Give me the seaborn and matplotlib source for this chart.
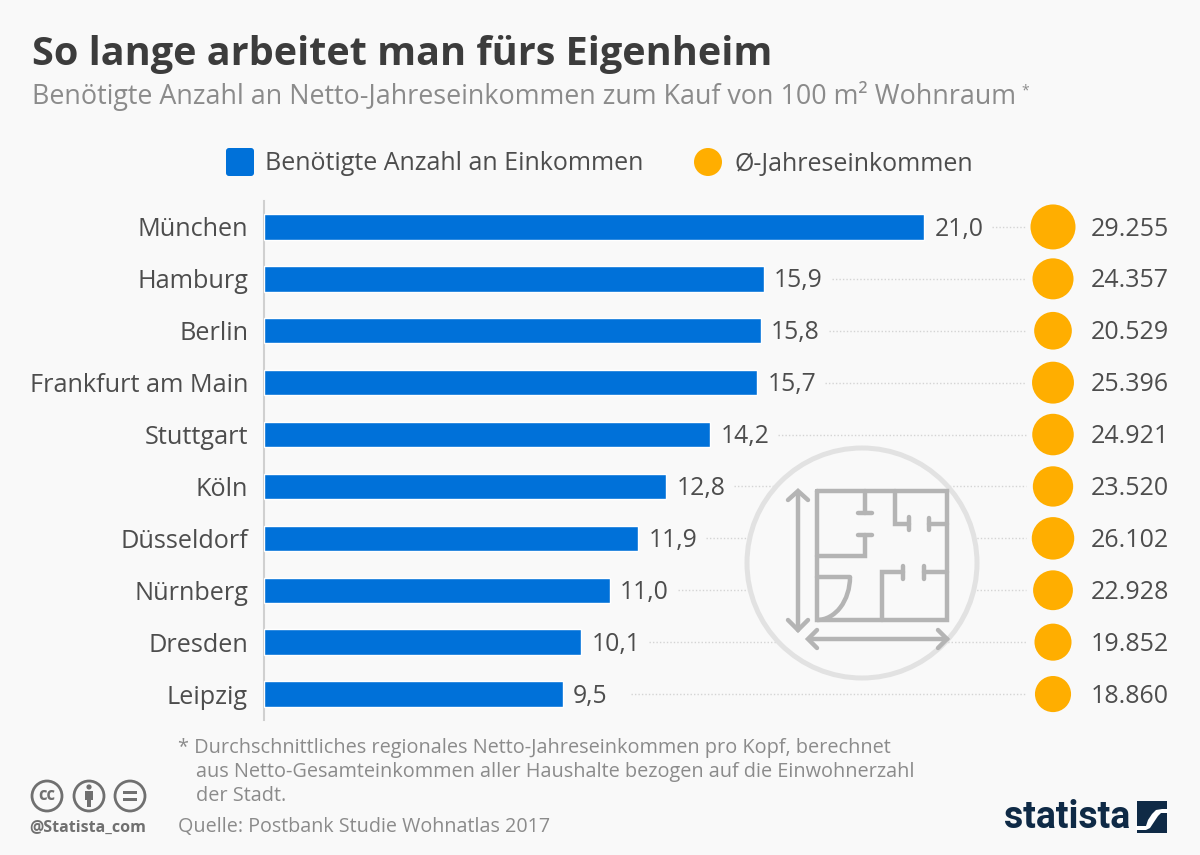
"""
So lange arbeitet man fuers Eigenheim - Statista bar chart with income bubbles.
"""
import numpy as np
import pandas as pd
import matplotlib
matplotlib.use('Agg')
import matplotlib.pyplot as plt
import seaborn as sns
from matplotlib.patches import Arc, Circle, FancyBboxPatch, PathPatch, Rectangle
from matplotlib.path import Path

cities = ['München', 'Hamburg', 'Berlin', 'Frankfurt am Main', 'Stuttgart',
          'Köln', 'Düsseldorf', 'Nürnberg', 'Dresden', 'Leipzig']
years_needed = [21.0, 15.9, 15.8, 15.7, 14.2, 12.8, 11.9, 11.0, 10.1, 9.5]
avg_income = [29255, 24357, 20529, 25396, 24921, 23520, 26102, 22928, 19852, 18860]

title = 'So lange arbeitet man fürs Eigenheim'
subtitle = 'Benötigte Anzahl an Netto-Jahreseinkommen zum Kauf von 100 m² Wohnraum'
legend_bar = 'Benötigte Anzahl an Einkommen'
legend_dot = 'Ø-Jahreseinkommen'
footnotes = ['* Durchschnittliches regionales Netto-Jahreseinkommen pro Kopf, berechnet',
             'aus Netto-Gesamteinkommen aller Haushalte bezogen auf die Einwohnerzahl',
             'der Stadt.']
source = 'Quelle: Postbank Studie Wohnatlas 2017'

BG = '#f9f9f9'
BLUE = '#0071d9'
ORANGE = '#ffae00'
TEXT = '#4d4d4d'
MUTED = '#8b8b8b'
ICON = '#b4b4b4'
NAVY = '#0f2a46'

sns.set_theme(style='white')
plt.rcParams['font.family'] = ['Open Sans', 'DejaVu Sans']

df = pd.DataFrame({'city': cities, 'years': years_needed, 'income': avg_income})

W, H = 1200, 855
fig = plt.figure(figsize=(W / 100, H / 100), dpi=100, facecolor=BG)

# main axes: bars start at x=264, 31.43 px per unit
ax = fig.add_axes([264 / W, 1 - 720 / H, (W - 264) / W, (720 - 201) / H])
ax.set_facecolor('none')
px_per_unit = 660 / 21.0

sns.barplot(data=df, x='years', y='city', color=BLUE, width=0.49, saturation=1, ax=ax, zorder=3)
ax.set_xlim(0, (W - 264) / px_per_unit)
ax.set_ylim(len(cities) - 0.5, -0.5)
ax.set_xlabel('')
ax.set_ylabel('')
ax.set_xticks([])
ax.tick_params(axis='y', length=0, pad=11.5, labelsize=18.2, labelcolor=TEXT)
sns.despine(ax=ax, top=True, right=True, bottom=True)
ax.spines['left'].set_color('#d0d0d0')
ax.spines['left'].set_linewidth(1.5)

value_labels = ax.bar_label(ax.containers[0], labels=[f'{v:.1f}'.replace('.', ',') for v in years_needed],
                            padding=7.5, fontsize=17.8, color=TEXT)
for t in value_labels:
    t.xyann = (t.xyann[0], -1.5)

# dotted connectors from value label to the bubble
rows = np.arange(len(cities))
dot_x = (1053 - 264) / px_per_unit
ax.hlines(rows, df['years'] + 68 / px_per_unit, (1026 - 264) / px_per_unit,
          color='#d4d4d4', lw=1, linestyles=(0, (1, 1.5)), zorder=1)

sns.scatterplot(x=[dot_x] * len(cities), y=rows, size=df['income'].to_numpy(),
                sizes=(26 ** 2 * 1.0, 32.4 ** 2), size_norm=(18860, 29255),
                color=ORANGE, edgecolor='none', legend=False, ax=ax, zorder=3, clip_on=False)
for r, v in zip(rows, avg_income):
    ax.annotate(f'{v:,}'.replace(',', '.'), xy=((1091 - 264) / px_per_unit, r), xytext=(0, -1.5),
                textcoords='offset points', va='center', ha='left', fontsize=18, color=TEXT)

# overlay in pixel coordinates for header, legend, icon and footer
ov = fig.add_axes([0, 0, 1, 1], zorder=5)
ov.set_xlim(0, W)
ov.set_ylim(H, 0)
ov.axis('off')

ov.text(32, 55, title, fontsize=28.5, fontweight='bold', color='#3c3c3c', va='center')
ov.text(32, 96, subtitle, fontsize=19.4, color=MUTED, va='center')
ov.text(1021, 91, '*', fontsize=10, color=MUTED, va='center')

ov.add_patch(FancyBboxPatch((228, 150), 24, 24, boxstyle='round,pad=2,rounding_size=3',
                            fc=BLUE, ec='none'))
ov.text(265, 164, legend_bar, fontsize=18, color=TEXT, va='center')
ov.add_patch(Circle((708, 162), 14, fc=ORANGE, ec='none'))
ov.text(734, 164, legend_dot, fontsize=18, color=TEXT, va='center')

# floor plan icon
ov.add_patch(Circle((862, 563), 115, fc=BG, ec='#e2e2e2', lw=3.6, zorder=2))
ikw = dict(color=ICON, lw=3.2, solid_capstyle='round', solid_joinstyle='miter', zorder=3)
plan = [
    [(817, 491), (947, 491), (947, 620), (817, 620), (817, 491)],
    [(865, 491), (865, 513)], [(858, 513), (872, 513)],
    [(895, 491), (895, 524), (909, 524)], [(909, 517), (909, 530)],
    [(947, 524), (929, 524)], [(929, 518), (929, 530)],
    [(858, 535), (872, 535)], [(865, 535), (865, 556), (817, 556)],
    [(882, 620), (882, 572), (903, 572)], [(903, 566), (903, 579)],
    [(947, 572), (924, 572)], [(924, 566), (924, 579)],
    [(817, 577), (850, 577)],
    [(798, 492), (798, 630)], [(788, 500), (798, 491), (808, 500)],
    [(788, 620), (798, 630), (808, 620)],
    [(809, 639), (947, 639)], [(817, 630), (808, 639), (817, 648)],
    [(938, 630), (947, 639), (938, 648)],
]
for seg in plan:
    xs, ys = zip(*seg)
    ov.plot(xs, ys, **ikw)
ov.add_patch(Arc((817, 577), 66, 86, theta1=0, theta2=90, ec=ICON, lw=3.2, zorder=3))

# footer
for x, y, line in zip([178, 196, 196], [748, 772, 796], footnotes):
    ov.text(x, y, line, fontsize=14.3, color=MUTED, va='center')
ov.text(178, 827, source, fontsize=14.2, color=MUTED, va='center')

# cc badges
GREY = '#707070'
for cx in (47, 89, 130):
    ov.add_patch(Circle((cx, 796), 15, fc='none', ec=GREY, lw=2))
ov.text(47, 795, 'cc', fontsize=12, fontweight='bold', color=GREY, ha='center', va='center')
ov.add_patch(Circle((89, 787), 2.6, fc=GREY, ec='none'))
ov.add_patch(Rectangle((85, 791), 8, 9, fc=GREY, ec='none'))
ov.add_patch(Rectangle((87, 800), 4, 7, fc=GREY, ec='none'))
ov.add_patch(Rectangle((123, 791), 14, 3, fc=GREY, ec='none'))
ov.add_patch(Rectangle((123, 798), 14, 3, fc=GREY, ec='none'))
ov.text(88, 828, '@Statista_com', fontsize=11.5, fontweight='bold', color=GREY, ha='center', va='center')

# statista logo
ov.text(1004, 817, 'statista', fontsize=27, fontweight='bold', color=NAVY, va='center',
        family=['Liberation Sans Narrow', 'Roboto'])
ov.add_patch(Rectangle((1137, 801), 30, 32, fc=NAVY, ec='none'))
swoosh = Path([(1136, 826), (1146, 826), (1148, 820), (1152, 814), (1156, 810), (1162, 809), (1168, 809),
               (1168, 813), (1161, 813), (1158, 816), (1154, 822), (1150, 828), (1146, 830), (1136, 830), (1136, 826)])
ov.add_patch(PathPatch(swoosh, fc='white', ec='none'))

fig.savefig('out.png', dpi=100, facecolor=BG)
plt.close(fig)
